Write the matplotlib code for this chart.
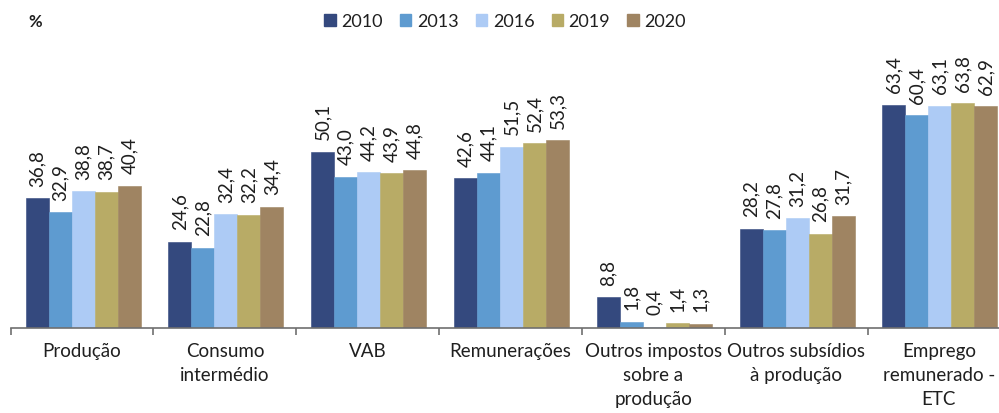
import matplotlib
matplotlib.use("Agg")
import matplotlib.pyplot as plt
import matplotlib.patches as mpatches
import numpy as np

plt.rcParams["font.family"] = ["Lato", "DejaVu Sans"]

categories = [
    "Produção",
    "Consumo\nintermédio",
    "VAB",
    "Remunerações",
    "Outros impostos\nsobre a\nprodução",
    "Outros subsídios\nà produção",
    "Emprego\nremunerado -\nETC",
]
years = ["2010", "2013", "2016", "2019", "2020"]
values = {
    "2010": [36.8, 24.6, 50.1, 42.6, 8.8, 28.2, 63.4],
    "2013": [32.9, 22.8, 43.0, 44.1, 1.8, 27.8, 60.4],
    "2016": [38.8, 32.4, 44.2, 51.5, 0.4, 31.2, 63.1],
    "2019": [38.7, 32.2, 43.9, 52.4, 1.4, 26.8, 63.8],
    "2020": [40.4, 34.4, 44.8, 53.3, 1.3, 31.7, 62.9],
}
colours = ["#34497E", "#5E9BD0", "#ADCBF5", "#B8AB66", "#9F8462"]

W, H = 999, 414
fig = plt.figure(figsize=(W / 100, H / 100), dpi=100)
ax = fig.add_axes([10.7 / W, 84.7 / H, 999.6 / W, 282.2 / H])

bar_w = 0.161
left_gap = 0.105
x = np.arange(len(categories))
text_col = "#1f1f1f"

for k, (yr, col) in enumerate(zip(years, colours)):
    pos = x + left_gap + (k + 0.5) * bar_w
    vals = values[yr]
    ax.bar(pos, vals, bar_w, color=col, edgecolor=col, linewidth=0.4, zorder=2)
    for px, v in zip(pos, vals):
        ax.annotate(f"{v:.1f}".replace(".", ","), xy=(px, v), xytext=(0, 9),
                    textcoords="offset points", rotation=90,
                    ha="center", va="bottom", fontsize=13.5, color=text_col)

ax.set_xlim(0, 7)
ax.set_ylim(0, 80)
ax.set_yticks([])
for s in ["top", "right", "left"]:
    ax.spines[s].set_visible(False)
ax.spines["bottom"].set_color("#6f6f6f")
ax.spines["bottom"].set_linewidth(1.2)

ax.set_xticks(x + 0.5)
ax.set_xticklabels(categories, fontsize=13.5, color=text_col, linespacing=1.5)
ax.tick_params(axis="x", which="major", length=0, pad=10)
ax.set_xticks(np.arange(0, 8), minor=True)
ax.tick_params(axis="x", which="minor", length=5, width=1.2, color="#6f6f6f")

fig.text(28 / W, 1 - 22 / H, "%", fontsize=12, color=text_col,
         ha="left", va="center", fontweight="bold")

handles = [mpatches.Patch(color=c, label=y) for y, c in zip(years, colours)]
fig.legend(handles=handles, loc="center", bbox_to_anchor=(505 / W, 1 - 22 / H),
           ncol=5, frameon=False, fontsize=13, handlelength=0.65,
           handleheight=0.65, handletextpad=0.3, columnspacing=0.95,
           labelcolor=text_col)

fig.savefig("out.png", dpi=100, facecolor="white")
